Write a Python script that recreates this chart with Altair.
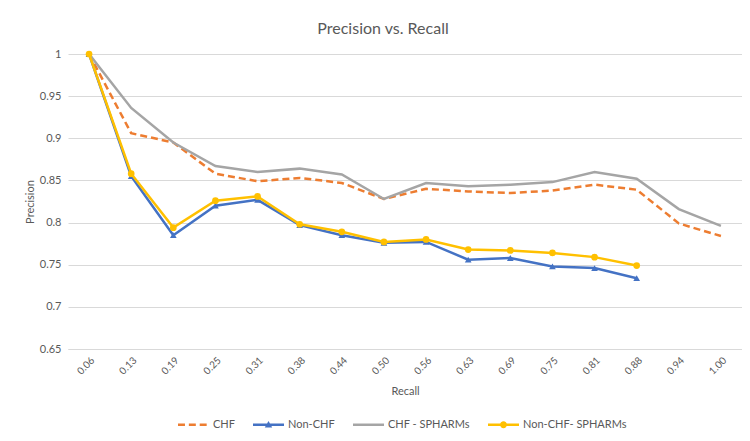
import altair as alt
import pandas as pd

recall = ["0.06", "0.13", "0.19", "0.25", "0.31", "0.38", "0.44", "0.50",
          "0.56", "0.63", "0.69", "0.75", "0.81", "0.88", "0.94", "1.00"]
series_names = ["CHF", "Non-CHF", "CHF - SPHARMs", "Non-CHF- SPHARMs"]
chf = [1.0, 0.906, 0.895, 0.858, 0.849, 0.853, 0.847, 0.828,
       0.840, 0.837, 0.835, 0.838, 0.845, 0.839, 0.799, 0.784]
non_chf = [1.0, 0.855, 0.785, 0.820, 0.827, 0.797, 0.785, 0.776,
           0.777, 0.756, 0.758, 0.748, 0.746, 0.734]
chf_sph = [1.0, 0.936, 0.895, 0.867, 0.860, 0.864, 0.857, 0.828,
           0.847, 0.843, 0.845, 0.848, 0.860, 0.852, 0.816, 0.796]
non_chf_sph = [1.0, 0.858, 0.794, 0.826, 0.831, 0.798, 0.789, 0.777,
               0.780, 0.768, 0.767, 0.764, 0.759, 0.749]
y_ticks = [0.65, 0.7, 0.75, 0.8, 0.85, 0.9, 0.95, 1.0]

colors = ["#ED7D31", "#4472C4", "#A5A5A5", "#FFC000"]

rows = []
for name, vals in zip(series_names, [chf, non_chf, chf_sph, non_chf_sph]):
    for r, v in zip(recall, vals):
        rows.append({"series": name, "recall": r, "precision": v})
df = pd.DataFrame(rows)

FONT = "Lato"
GREY = "#595959"

x_enc = alt.X("recall:N", sort=recall, scale=alt.Scale(type="point", padding=0.5),
              axis=alt.Axis(title="Recall", labelAngle=315, labelFontSize=10,
                            labelColor=GREY, labelFont=FONT, titleFont=FONT,
                            titleFontSize=11, titleFontWeight="normal", titleColor=GREY,
                            ticks=False, domain=True, domainColor="#D9D9D9",
                            labelPadding=6, titlePadding=9, grid=False))
y_enc = alt.Y("precision:Q", scale=alt.Scale(domain=[0.65, 1.0], nice=False, zero=False),
              axis=alt.Axis(title="Precision", values=y_ticks, format=".2~f",
                            labelFontSize=11, labelColor=GREY, labelFont=FONT,
                            titleFont=FONT, titleFontSize=11, titleFontWeight="normal",
                            titleColor=GREY, ticks=False, domain=False, grid=True,
                            gridColor="#D9D9D9", labelPadding=7, titlePadding=4))

base = alt.Chart(df).encode(x=x_enc, y=y_enc)


def sel(name):
    return alt.datum.series == name


orange = base.transform_filter(sel("CHF")).mark_line(
    color=colors[0], strokeWidth=2.5, strokeDash=[7, 4])
blue = base.transform_filter(sel("Non-CHF")).mark_line(color=colors[1], strokeWidth=2.5)
blue_pts = base.transform_filter(sel("Non-CHF")).mark_point(
    shape="triangle-up", filled=True, color=colors[1], size=45, opacity=1)
gray = base.transform_filter(sel("CHF - SPHARMs")).mark_line(color=colors[2], strokeWidth=2.5)
yellow = base.transform_filter(sel("Non-CHF- SPHARMs")).mark_line(color=colors[3], strokeWidth=2.5)
yellow_pts = base.transform_filter(sel("Non-CHF- SPHARMs")).mark_point(
    shape="circle", filled=True, color=colors[3], size=45, opacity=1)

legend_paths = [
    "M-1,-0.08H-0.55V0.08H-1Z M-0.3,-0.08H0.15V0.08H-0.3Z M0.4,-0.08H0.85V0.08H0.4Z",
    "M-1,-0.08H1V0.08H-1Z M-0.24,0.18L0,-0.24L0.24,0.18Z",
    "M-1,-0.08H1V0.08H-1Z",
    "M-1,-0.08H1V0.08H-1Z M-0.22,0A0.22,0.22 0 1,1 0.22,0A0.22,0.22 0 1,1 -0.22,0Z",
]

legend_layer = base.mark_point(filled=True, size=0, opacity=1).encode(
    color=alt.Color("series:N", scale=alt.Scale(domain=series_names, range=colors),
                    legend=alt.Legend(title=None, orient="none", direction="horizontal",
                                      legendX=110, legendY=355, padding=0,
                                      symbolSize=961, labelFont=FONT, labelFontSize=11,
                                      labelColor=GREY, columnPadding=18, labelOffset=4,
                                      symbolOpacity=1, symbolStrokeWidth=0)),
    shape=alt.Shape("series:N", scale=alt.Scale(domain=series_names, range=legend_paths)),
)

chart = alt.layer(orange, blue, blue_pts, gray, yellow, yellow_pts, legend_layer).properties(
    width=674, height=295,
    title=alt.TitleParams("Precision vs. Recall", font=FONT, fontSize=16,
                          fontWeight="normal", color=GREY, offset=11, dx=-22),
    autosize=alt.AutoSizeParams(type="none"),
    padding={"left": 60, "top": 46, "right": 0, "bottom": 84},
).configure_view(stroke=None)

chart.save("out.html", embed_options={"renderer": "svg", "actions": False})
